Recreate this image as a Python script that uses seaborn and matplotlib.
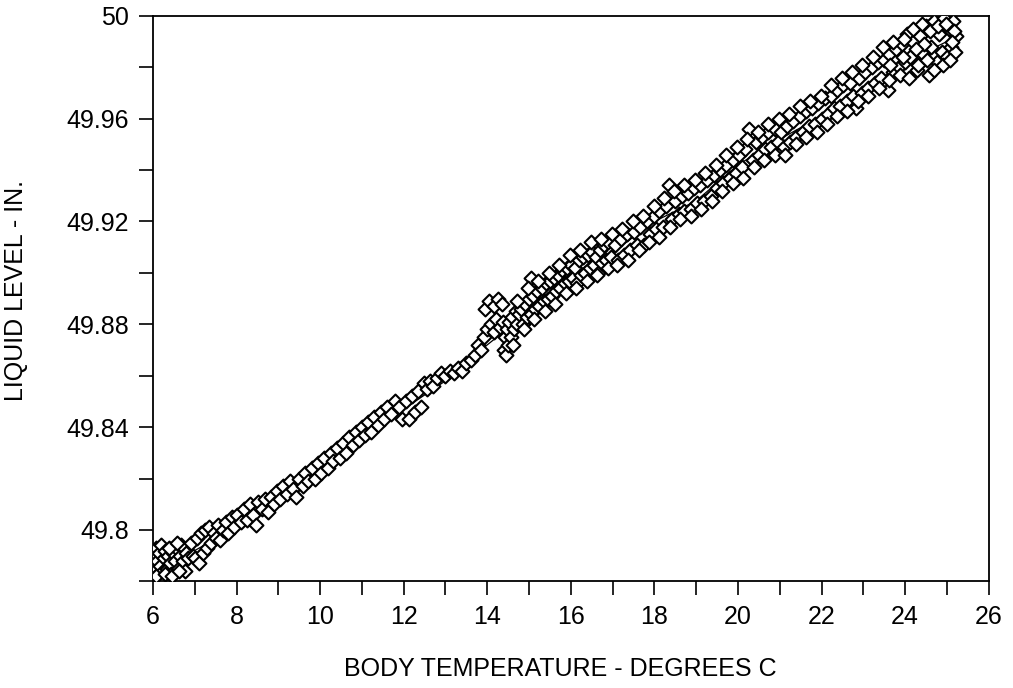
import matplotlib
matplotlib.use("Agg")
import matplotlib.pyplot as plt
import matplotlib.ticker as mticker
import pandas as pd
import seaborn as sns

temp_c = [
    6.02, 6.05, 6.07, 6.10, 6.12, 6.15, 6.18, 6.20, 6.23, 6.26, 6.30, 6.33, 6.36, 6.40,
    6.44, 6.48, 6.52, 6.55, 6.60, 6.64, 6.68, 6.72, 6.76, 6.80, 6.85, 6.90, 6.95,
    6.08, 6.28, 6.46, 6.62, 6.38, 6.58,
    7.00, 7.05, 7.10, 7.15, 7.20, 7.25, 7.30, 7.35, 7.40, 7.45, 7.50, 7.55, 7.60, 7.68,
    7.75, 7.80, 7.88, 7.95, 8.02, 8.10, 8.18, 8.25, 8.32, 8.40, 8.46, 8.52, 8.60, 8.68,
    8.75, 8.82, 8.90, 8.96,
    9.05, 9.12, 9.20, 9.28, 9.35, 9.42, 9.50, 9.58, 9.65, 9.72, 9.80, 9.88, 9.95, 10.02,
    10.10, 10.18, 10.25, 10.32, 10.40, 10.48, 10.55, 10.62, 10.70, 10.78, 10.85, 10.92,
    11.00, 11.08, 11.15, 11.22, 11.30, 11.38, 11.45, 11.52, 11.60, 11.70, 11.80, 11.88,
    11.97,
    12.05, 12.12, 12.20, 12.28, 12.35, 12.42, 12.48, 12.55, 12.62, 12.70, 12.80, 12.90,
    13.00, 13.10, 13.20, 13.30, 13.40, 13.50, 13.60, 13.70, 13.78, 13.85, 13.92, 14.00,
    14.08, 14.15, 14.22, 14.30, 14.38,
    13.95, 14.05, 14.15, 14.25, 14.35, 15.04,
    14.40, 14.42, 14.45, 14.48, 14.50, 14.53, 14.56, 14.60, 14.64, 14.68, 14.72, 14.76,
    14.80, 14.85, 14.90, 14.95, 15.00, 15.05, 15.10, 15.15, 15.20, 15.25, 15.30, 15.35,
    15.40, 15.45, 15.50, 15.55, 15.60, 15.65, 15.70, 15.75, 15.80, 15.85, 15.90, 15.95,
    16.00, 16.05, 16.10, 16.15, 16.20, 16.25, 16.30, 16.35, 16.40, 16.45, 16.50, 16.55,
    16.60, 16.65, 16.70, 16.75, 16.80, 16.85, 16.90, 16.95,
    14.62, 14.70, 14.88, 14.98, 15.12, 15.22, 15.38, 15.48, 15.62, 15.72, 15.88, 15.98,
    16.12, 16.22, 16.38, 16.48, 16.62, 16.72, 16.88, 16.98,
    17.05, 17.12, 17.20, 17.28, 17.35, 17.42, 17.50, 17.58, 17.65, 17.75, 17.82, 17.90,
    17.98, 18.05, 18.12, 18.20, 18.28, 18.35, 18.42, 18.50, 18.58, 18.65, 18.72, 18.80,
    18.88, 18.95, 19.02, 19.10, 19.18, 19.25, 19.35, 19.42, 19.50, 19.58, 19.65, 19.72,
    19.80, 19.88, 19.95, 20.02, 20.10, 20.18, 20.27, 20.35, 20.42, 20.50, 20.58, 20.65,
    20.72, 20.80, 20.88, 20.95,
    17.10, 17.22, 17.38, 17.48, 17.62, 17.72, 17.88, 17.98, 18.12, 18.22, 18.38, 18.48,
    18.62, 18.72, 18.88, 18.98, 19.12, 19.22, 19.38, 19.48, 19.62, 19.72, 19.88, 19.98,
    20.12, 20.22, 20.38, 20.48, 20.62, 20.72, 20.88, 20.98,
    21.02, 21.10, 21.18, 21.25, 21.32, 21.40, 21.48, 21.55, 21.62, 21.70, 21.78, 21.85,
    21.92, 22.00, 22.08, 22.15, 22.22, 22.30, 22.38, 22.45, 22.52, 22.60, 22.68, 22.75,
    22.83, 22.90, 22.97, 23.05, 23.12, 23.20, 23.28, 23.35, 23.42, 23.50, 23.58, 23.62,
    23.70, 23.78, 23.85, 23.92, 24.00, 24.05, 24.12, 24.20, 24.28, 24.35, 24.42, 24.50,
    24.56, 24.62, 24.70, 24.76, 24.82, 24.88, 24.94, 25.00, 25.05, 25.10, 25.15, 25.20,
    25.22,
    21.12, 21.22, 21.38, 21.48, 21.62, 21.72, 21.88, 21.98, 22.12, 22.22, 22.38, 22.48,
    22.62, 22.72, 22.88, 22.98, 23.12, 23.22, 23.38, 23.48, 23.62, 23.72, 23.88, 23.98,
    24.10, 24.18, 24.32, 24.40, 24.52, 24.60, 24.68, 24.78, 24.90, 24.98, 25.08, 25.18,
    25.12, 24.45, 24.25, 23.95, 23.65,
]
level_in = [
    49.790, 49.785, 49.793, 49.788, 49.783, 49.791, 49.786, 49.794, 49.784, 49.789, 49.792, 49.785, 49.790, 49.787,
    49.783, 49.791, 49.788, 49.793, 49.785, 49.790, 49.794, 49.788, 49.784, 49.791, 49.789, 49.795, 49.790,
    49.782, 49.783, 49.782, 49.784, 49.793, 49.795,
    49.789, 49.797, 49.787, 49.799, 49.791, 49.800, 49.793, 49.801, 49.795, 49.799, 49.797, 49.802, 49.796, 49.800,
    49.803, 49.799, 49.805, 49.801, 49.806, 49.803, 49.808, 49.804, 49.810, 49.806, 49.802, 49.811, 49.808, 49.812,
    49.807, 49.813, 49.810, 49.815,
    49.812, 49.817, 49.814, 49.819, 49.816, 49.813, 49.820, 49.817, 49.822, 49.819, 49.824, 49.820, 49.826, 49.822,
    49.828, 49.824, 49.830, 49.827, 49.832, 49.828, 49.834, 49.830, 49.836, 49.833, 49.838, 49.835,
    49.840, 49.837, 49.842, 49.838, 49.844, 49.841, 49.846, 49.843, 49.848, 49.845, 49.850, 49.848,
    49.843,
    49.850, 49.843, 49.852, 49.846, 49.854, 49.848, 49.857, 49.855, 49.858, 49.856, 49.859, 49.861,
    49.860, 49.862, 49.861, 49.863, 49.862, 49.865, 49.866, 49.868, 49.872, 49.870, 49.875, 49.878,
    49.880, 49.877, 49.882, 49.879, 49.881,
    49.886, 49.889, 49.887, 49.890, 49.888, 49.898,
    49.870, 49.875, 49.868, 49.878, 49.872, 49.881, 49.875, 49.883, 49.878, 49.885, 49.880, 49.884,
    49.886, 49.880, 49.888, 49.883, 49.890, 49.884, 49.891, 49.886, 49.893, 49.887, 49.894, 49.889,
    49.896, 49.890, 49.897, 49.891, 49.898, 49.893, 49.899, 49.894, 49.901, 49.896, 49.902, 49.897,
    49.903, 49.898, 49.902, 49.896, 49.905, 49.899, 49.906, 49.900, 49.907, 49.902, 49.908, 49.903,
    49.906, 49.900, 49.909, 49.904, 49.911, 49.905, 49.912, 49.906,
    49.872, 49.889, 49.878, 49.894, 49.882, 49.897, 49.885, 49.900, 49.888, 49.903, 49.892, 49.907,
    49.894, 49.909, 49.897, 49.912, 49.899, 49.913, 49.902, 49.915,
    49.911, 49.905, 49.913, 49.907, 49.915, 49.909, 49.916, 49.911, 49.918, 49.911, 49.920, 49.915,
    49.922, 49.917, 49.924, 49.918, 49.926, 49.934, 49.921, 49.928, 49.923, 49.930, 49.924, 49.931,
    49.925, 49.933, 49.927, 49.934, 49.928, 49.936, 49.930, 49.938, 49.933, 49.940, 49.935, 49.942,
    49.937, 49.944, 49.939, 49.946, 49.941, 49.948, 49.956, 49.944, 49.951, 49.946, 49.953, 49.948,
    49.955, 49.949, 49.956, 49.951,
    49.903, 49.917, 49.905, 49.920, 49.909, 49.922, 49.912, 49.926, 49.914, 49.929, 49.918, 49.932,
    49.921, 49.934, 49.922, 49.936, 49.925, 49.939, 49.928, 49.942, 49.932, 49.946, 49.935, 49.949,
    49.937, 49.952, 49.941, 49.955, 49.944, 49.958, 49.946, 49.960,
    49.955, 49.949, 49.957, 49.951, 49.959, 49.953, 49.961, 49.955, 49.963, 49.957, 49.964, 49.958,
    49.966, 49.960, 49.968, 49.962, 49.969, 49.964, 49.971, 49.965, 49.973, 49.967, 49.974, 49.969,
    49.964, 49.976, 49.970, 49.978, 49.972, 49.980, 49.974, 49.982, 49.976, 49.983, 49.971, 49.985,
    49.978, 49.987, 49.980, 49.989, 49.982, 49.993, 49.984, 49.990, 49.979, 49.992, 49.985, 49.996,
    49.977, 49.988, 49.998, 49.982, 49.993, 49.986, 49.999, 49.984, 49.995, 49.988, 49.998, 49.986,
    49.992,
    49.946, 49.962, 49.950, 49.965, 49.953, 49.967, 49.955, 49.969, 49.958, 49.973, 49.961, 49.976,
    49.963, 49.978, 49.967, 49.981, 49.969, 49.984, 49.972, 49.988, 49.975, 49.990, 49.977, 49.991,
    49.976, 49.995, 49.981, 49.997, 49.983, 49.994, 49.979, 49.996, 49.981, 49.997, 49.983, 49.994,
    49.990, 49.989, 49.987, 49.984, 49.981,
]

# smooth trend line drawn through the points
fit_temp = [6, 7, 8, 9, 10, 11, 12, 13, 14, 15, 16, 17, 18, 19, 20, 21, 22, 23, 24, 25]
fit_level = [49.789, 49.792, 49.801, 49.812, 49.823, 49.835, 49.847, 49.858, 49.872, 49.885,
             49.899, 49.908, 49.920, 49.928, 49.942, 49.952, 49.961, 49.971, 49.982, 49.990]

pts = pd.DataFrame({"temp": temp_c, "level": level_in})
fit = pd.DataFrame({"temp": fit_temp, "level": fit_level})

sns.set_style("ticks", {"axes.edgecolor": "black", "text.color": "black",
                        "xtick.color": "black", "ytick.color": "black",
                        "axes.labelcolor": "black"})
plt.rcParams["font.family"] = ["Liberation Sans", "DejaVu Sans"]

fig = plt.figure(figsize=(10.13, 6.88), dpi=100)
ax = fig.add_axes([0.151, 0.155, 0.825, 0.822])

sns.lineplot(data=fit, x="temp", y="level", color="black", linewidth=0.9, ax=ax)
sns.scatterplot(data=pts, x="temp", y="level", marker="D", s=50,
                facecolor="white", edgecolor="black", linewidth=1.5, ax=ax, zorder=3)

ax.set_xlim(6, 26)
ax.set_ylim(49.78, 50.0)
ax.xaxis.set_major_locator(mticker.MultipleLocator(2))
ax.xaxis.set_minor_locator(mticker.MultipleLocator(1))
ax.yaxis.set_major_locator(mticker.FixedLocator([49.80, 49.84, 49.88, 49.92, 49.96, 50.0]))
ax.yaxis.set_minor_locator(mticker.FixedLocator([49.78, 49.82, 49.86, 49.90, 49.94, 49.98]))
ax.yaxis.set_major_formatter(mticker.FuncFormatter(lambda v, p: f"{v:.2f}".rstrip("0").rstrip(".")))
ax.tick_params(which="both", length=10, width=1.2, color="black", direction="out")
ax.tick_params(which="major", labelsize=18, pad=7, labelcolor="black")

for s in ax.spines.values():
    s.set_visible(True)
    s.set_linewidth(1.3)
    s.set_color("black")

ax.set_xlabel("BODY TEMPERATURE - DEGREES C", fontsize=18, color="black")
ax.set_ylabel("LIQUID LEVEL - IN.", fontsize=18, color="black")
ax.xaxis.set_label_coords(0.487, -0.133)
ax.yaxis.set_label_coords(-0.15, 0.515)

fig.savefig("out.png", dpi=100)
